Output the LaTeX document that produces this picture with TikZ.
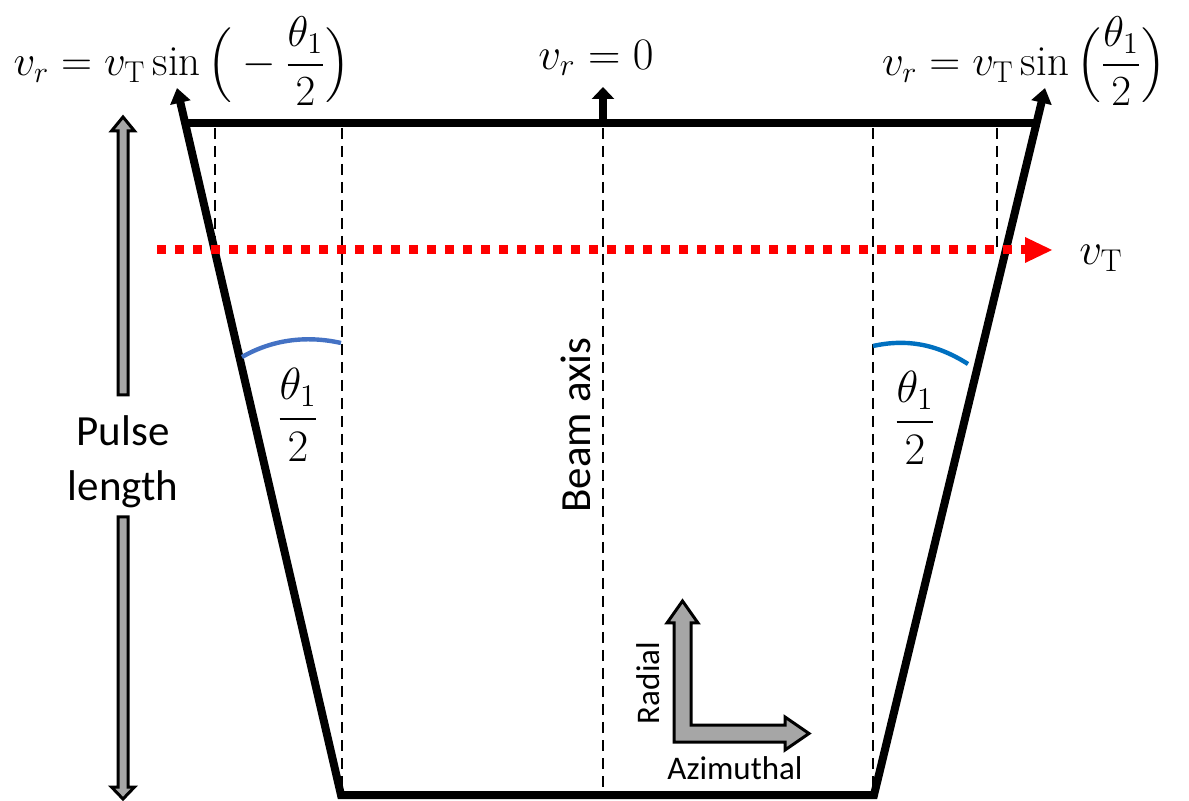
\documentclass[tikz,border=0pt]{standalone}
\usepackage{fix-cm}
\usepackage{amsmath}
\usepackage{fontspec}
\setsansfont{Carlito}
\usetikzlibrary{arrows.meta}
\definecolor{arcblueA}{HTML}{4472C4}
\definecolor{arcblueB}{HTML}{0070C0}
\definecolor{arrgray}{HTML}{A6A6A6}
\tikzset{
  frameline/.style={line width=4pt, line join=miter},
  dashline/.style={line width=1.2pt, dash pattern=on 5.5pt off 3.5pt},
  redline/.style={red, line width=4.5pt, dash pattern=on 4.5pt off 4.5pt},
  blockarrow/.style={fill=arrgray, draw=black, line width=1.5pt, line join=miter},
  mathlabel/.style={font=\fontsize{22.5}{28}\selectfont, inner sep=0pt},
  toplabel/.style={font=\fontsize{21.5}{26}\selectfont, inner sep=0pt},
  sanslabel/.style={font=\sffamily\fontsize{21.5}{27.5}\selectfont, inner sep=0pt, align=center},
  smalllabel/.style={font=\sffamily\fontsize{16.5}{20}\selectfont, inner sep=0pt},
}
\begin{document}
\begin{tikzpicture}[x=0.5pt,y=-0.5pt]
\useasboundingbox (0,0) rectangle (1189,801);
% corner coordinates
\coordinate (BL) at (341,795);
\coordinate (BR) at (874,795);
\coordinate (TLtip) at (177,88);
\coordinate (TRtip) at (1045,88);
\coordinate (TLc) at (185,123);
\coordinate (TRc) at (1036,123);
\coordinate (Ctop) at (603,123);
\coordinate (Ctip) at (603,87);
% dashed verticals
\coordinate (d1a) at (215,128); \coordinate (d1b) at (215,245);
\coordinate (d2a) at (342,128); \coordinate (d2b) at (342,790);
\coordinate (d3a) at (603,128); \coordinate (d3b) at (603,790);
\coordinate (d4a) at (873,128); \coordinate (d4b) at (873,790);
\coordinate (d5a) at (997,128); \coordinate (d5b) at (997,248);
\draw[dashline] (d1a) -- (d1b);
\draw[dashline] (d2a) -- (d2b);
\draw[dashline] (d3a) -- (d3b);
\draw[dashline] (d4a) -- (d4b);
\draw[dashline] (d5a) -- (d5b);
% frame
\draw[frameline, {Triangle[length=7.5pt,width=10pt]}-{Triangle[length=7.5pt,width=10pt]}] (TLtip) -- (BL) -- (BR) -- (TRtip);
\draw[frameline] (TLc) -- (TRc);
\draw[line width=4pt, -{Triangle[length=6pt,width=11pt]}] (Ctop) -- (Ctip);
% red dotted arrow
\coordinate (Rs) at (157,250);
\coordinate (Re) at (1027,250);
\coordinate (Rtip) at (1052,250);
\draw[redline] (Rs) -- (Re);
\fill[red] (1025,237) -- (Rtip) -- (1025,263) -- cycle;
% blue arcs
\coordinate (a1s) at (242,357); \coordinate (a1e) at (341,343);
\coordinate (a2s) at (873,346); \coordinate (a2e) at (968,364);
\draw[arcblueA, line width=2.2pt] (a1s) .. controls (275,338) and (310,336) .. (a1e);
\draw[arcblueB, line width=2.2pt] (a2s) .. controls (905,339) and (935,343) .. (a2e);
% labels
\node[toplabel] (lblL) at (182,61) {$v_r = v_{\mathrm{T}}\sin\Big(-\dfrac{\theta_1}{2}\Big)$};
\node[mathlabel] (lblC) at (596,58) {$v_r = 0$};
\node[toplabel] (lblR) at (1024,61) {$v_r = v_{\mathrm{T}}\sin\Big(\dfrac{\theta_1}{2}\Big)$};
\node[mathlabel] (lblVT) at (1101,258) {$v_{\mathrm{T}}$};
\node[mathlabel] (th1) at (298,415) {$\dfrac{\theta_1}{2}$};
\node[mathlabel] (th2) at (915,418) {$\dfrac{\theta_1}{2}$};
\node[sanslabel] (pulse) at (123,462) {Pulse\\length};
\node[sanslabel, rotate=90] (beam) at (576,425) {Beam axis};
\node[smalllabel, rotate=90] (radial) at (648,683) {Radial};
\node[smalllabel] (azim) at (735,768) {Azimuthal};
% pulse length block arrows
\draw[blockarrow] (118,395) -- (118,131) -- (111.5,131) -- (123,117) -- (134.5,131) -- (128,131) -- (128,395) -- cycle;
\draw[blockarrow] (118,517) -- (128,517) -- (128,787) -- (134.5,787) -- (123,799) -- (111.5,787) -- (118,787) -- cycle;
% L arrow
\draw[blockarrow] (674,742) -- (674,623) -- (667,623) -- (682.5,601) -- (698,623) -- (691,623) -- (691,725) -- (785,725) -- (785,717) -- (809,733.5) -- (785,750) -- (785,742) -- cycle;
\end{tikzpicture}
\end{document}
